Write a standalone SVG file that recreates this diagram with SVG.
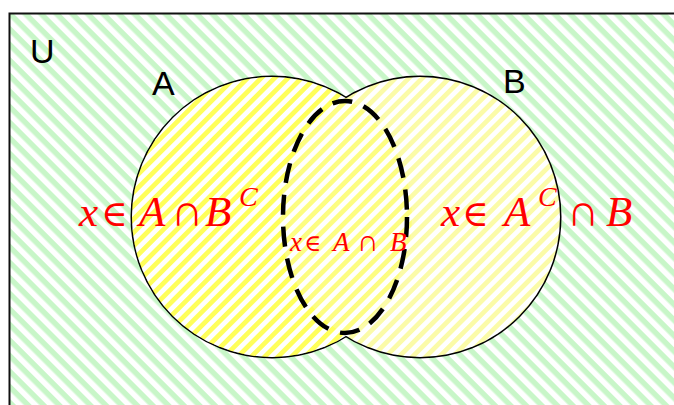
<svg xmlns="http://www.w3.org/2000/svg" width="674" height="405" viewBox="0 0 674 405">
<style>
.lbl{font-family:"Liberation Sans",Arial,sans-serif;font-size:34px;fill:#000}
.m{font-family:"Liberation Serif","Times New Roman",serif;fill:#ff0000}
.i{font-style:italic}
.s{font-family:"DejaVu Serif",serif}
.outline{fill:none;stroke:#000;stroke-width:3}
</style>
<defs>
<pattern id="green" width="11" height="11" patternUnits="userSpaceOnUse" patternTransform="rotate(45)">
<rect width="11" height="11" fill="#fff"/>
<rect width="11" height="5.5" fill="#c8f6c8"/>
</pattern>
<pattern id="yelA" width="9.5" height="9.5" patternUnits="userSpaceOnUse" patternTransform="rotate(-45)">
<rect width="9.5" height="9.5" fill="#fff"/>
<rect width="9.5" height="4.75" fill="#ffff5a"/>
</pattern>
<pattern id="yelB" width="9.5" height="9.5" patternUnits="userSpaceOnUse" patternTransform="rotate(-45)">
<rect width="9.5" height="9.5" fill="#fff"/>
<rect width="9.5" height="4.75" fill="#fbfba8"/>
</pattern>
</defs>
<rect x="9.5" y="13.5" width="700" height="500" fill="url(#green)" stroke="#111" stroke-width="2"/>
<g id="U"><text class="lbl" x="30" y="63">U</text></g>
<g id="setA">
<circle class="outline" cx="272" cy="217" r="140"/>
<text class="lbl" x="152" y="95">A</text>
</g>
<g id="setB">
<circle class="outline" cx="420" cy="217" r="140"/>
<text class="lbl" x="503" y="93">B</text>
</g>
<g id="fills">
<circle cx="272" cy="217" r="140" fill="url(#yelA)"/>
<circle cx="420" cy="217" r="140" fill="url(#yelB)"/>
<circle cx="272" cy="217" r="140" fill="url(#yelA)" opacity="0.5"/>
</g>
<g id="intersection">
<ellipse cx="345" cy="217" rx="62" ry="116" fill="none" stroke="#000" stroke-width="4.5" stroke-dasharray="20 12"/>
</g>
<g id="labelA">
<text class="m" font-size="43" y="226"><tspan class="i" x="79">x</tspan><tspan class="s" font-size="36" x="101">∈</tspan><tspan class="i" x="139">A</tspan><tspan font-size="45" x="171">∩</tspan><tspan class="i" x="205">B</tspan></text>
<text class="m i" font-size="28" x="239" y="206">C</text>
</g>
<g id="labelB">
<text class="m" font-size="43" y="226"><tspan class="i" x="441">x</tspan><tspan class="s" font-size="36" x="462">∈</tspan><tspan class="i" x="504">A</tspan><tspan font-size="45" x="567">∩</tspan><tspan class="i" x="606">B</tspan></text>
<text class="m i" font-size="28" x="538" y="206">C</text>
</g>
<g id="labelAB">
<text class="m" font-size="27" y="251"><tspan class="i" x="290">x</tspan><tspan class="s" font-size="23" x="304">∈</tspan><tspan class="i" x="333">A</tspan><tspan font-size="30" x="357">∩</tspan><tspan class="i" x="390">B</tspan></text>
</g>
</svg>
